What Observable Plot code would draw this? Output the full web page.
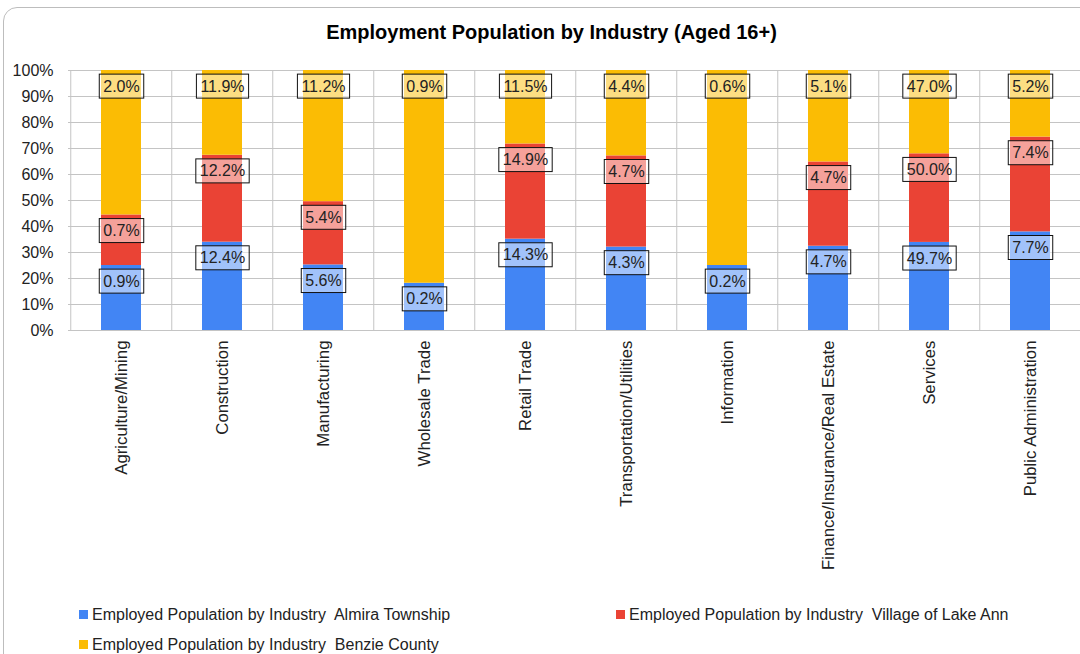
<!DOCTYPE html>
<html>
<head>
<meta charset="utf-8">
<script src="https://cdn.jsdelivr.net/npm/d3@7"></script>
<script src="https://cdn.jsdelivr.net/npm/@observablehq/plot@0.6"></script>
<style>
  html, body { margin: 0; padding: 0; background: #fff; overflow: hidden; }
  #page { position: relative; width: 1080px; height: 654px; overflow: hidden; font-family: "Liberation Sans", Arial, sans-serif; color: #222; }
  #frame { position: absolute; left: 3px; top: 7px; width: 1120px; height: 720px; border: 1px solid #bdbdbd; border-radius: 14px; box-sizing: border-box; }
  #title { position: absolute; left: 0; top: 20px; width: 1103px; text-align: center; font-weight: bold; font-size: 20px; line-height: 24px; color: #000; }
  #chart { position: absolute; left: 0; top: 0; width: 1100px; }
  #chart svg { max-width: none !important; }
  .leg { position: absolute; font-size: 16px; line-height: 18px; white-space: pre; color: #222; }
  .leg span.sw { position: absolute; left: -13px; top: 4px; width: 9px; height: 9px; }
</style>
</head>
<body>
<div id="page">
  <div id="frame"></div>
  <div id="title">Employment Population by Industry (Aged 16+)</div>
  <div id="chart"></div>
  <div id="legend"></div>
</div>
<script>
const categories = ["Agriculture/Mining", "Construction", "Manufacturing", "Wholesale Trade", "Retail Trade", "Transportation/Utilities", "Information", "Finance/Insurance/Real Estate", "Services", "Public Administration"];
const seriesNames = ["Employed Population by Industry  Almira Township", "Employed Population by Industry  Village of Lake Ann", "Employed Population by Industry  Benzie County"];
const almira = [0.9, 12.4, 5.6, 0.2, 14.3, 4.3, 0.2, 4.7, 49.7, 7.7];
const lakeAnn = [0.7, 12.2, 5.4, 0, 14.9, 4.7, 0, 4.7, 50.0, 7.4];
const benzie = [2.0, 11.9, 11.2, 0.9, 11.5, 4.4, 0.6, 5.1, 47.0, 5.2];
const colors = ["#4285F4", "#EA4335", "#FBBC04"];
const yTicks = [0, 0.1, 0.2, 0.3, 0.4, 0.5, 0.6, 0.7, 0.8, 0.9, 1];

const seriesValues = [almira, lakeAnn, benzie];
const data = [];
seriesNames.forEach((s, si) => categories.forEach((c, ci) => data.push({category: c, series: s, value: seriesValues[si][ci]})));

const W = 1100, ML = 68, MR = 17;
const step = (W - ML - MR) / categories.length;
const gridColor = "#c4c4c4";

const chart = Plot.plot({
  width: W,
  height: 600,
  marginTop: 70,
  marginBottom: 270,
  marginLeft: ML,
  marginRight: MR,
  style: {fontFamily: "'Liberation Sans', Arial, sans-serif", fontSize: "16px", color: "#222", background: "transparent", maxWidth: "none"},
  x: {domain: categories, paddingInner: 0.6, paddingOuter: 0.3, label: null},
  y: {domain: [0, 1], label: null},
  color: {domain: seriesNames, range: colors},
  marks: [
    Plot.ruleY(yTicks, {stroke: gridColor}),
    Plot.ruleX(categories, {x: d => d, dx: -step / 2, stroke: gridColor}),
    Plot.ruleX(categories.slice(-1), {x: d => d, dx: step / 2, stroke: gridColor}),
    Plot.barY(data, Plot.stackY({x: "category", y: "value", z: "series", fill: "series", offset: "normalize", order: null})),
    Plot.text(data, Plot.stackY2({
      x: "category", y: "value", z: "series", offset: "normalize", order: null,
      filter: d => d.value > 0,
      text: d => d.value.toFixed(1) + "%",
      dy: 16, fill: "#222", fontSize: 16, className: "seglabel"
    })),
    Plot.axisY({ticks: yTicks, tickSize: 0, tickPadding: 15, tickFormat: d => Math.round(d * 100) + "%", fontSize: 16, label: null}),
    Plot.axisX({tickSize: 0, tickPadding: 10, tickRotate: -90, fontSize: 16.8, label: null})
  ]
});
chart.style.maxWidth = "none";
document.getElementById("chart").appendChild(chart);

// boxes around labels
d3.select(chart).selectAll("g.seglabel text").each(function() {
  const b = this.getBBox();
  const rect = document.createElementNS("http://www.w3.org/2000/svg", "rect");
  const cy = b.y + b.height / 2;
  rect.setAttribute("x", b.x - 4);
  rect.setAttribute("y", cy - 12);
  rect.setAttribute("width", b.width + 8);
  rect.setAttribute("height", 24);
  rect.setAttribute("fill", "#fff");
  rect.setAttribute("fill-opacity", 0.5);
  rect.setAttribute("stroke", "#111");
  rect.setAttribute("stroke-width", 1);
  const t = this.getAttribute("transform");
  if (t) rect.setAttribute("transform", t);
  this.parentNode.insertBefore(rect, this);
});

// legend
const legPos = [{x: 92, y: 606}, {x: 629, y: 606}, {x: 92, y: 636}];
const legend = document.getElementById("legend");
seriesNames.forEach((s, i) => {
  const div = document.createElement("div");
  div.className = "leg";
  div.style.left = legPos[i].x + "px";
  div.style.top = legPos[i].y + "px";
  const sw = document.createElement("span");
  sw.className = "sw";
  sw.style.background = colors[i];
  div.appendChild(sw);
  div.appendChild(document.createTextNode(s));
  legend.appendChild(div);
});
</script>
</body>
</html>
